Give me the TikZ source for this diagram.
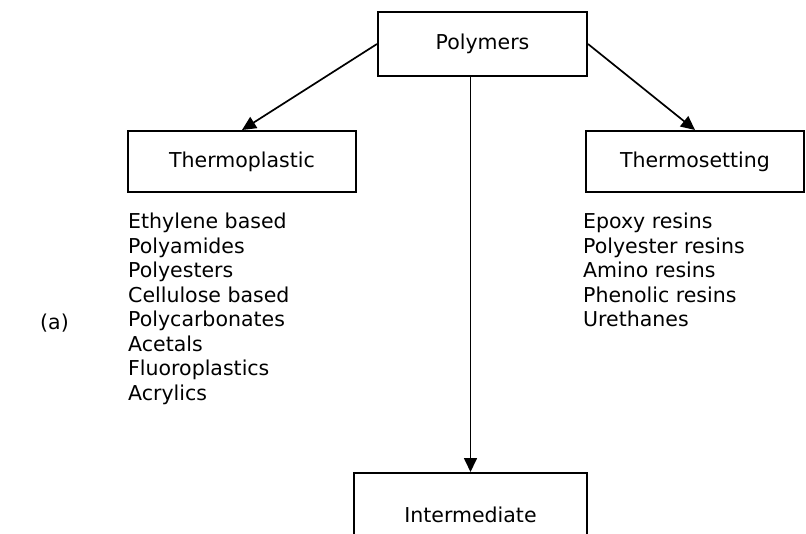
\documentclass[tikz,border=0pt]{standalone}
\usepackage{fontspec}
\setmainfont{DejaVu Sans}
\usetikzlibrary{arrows.meta}

\begin{document}
\begin{tikzpicture}[x=1pt, y=-1pt,
  classbox/.style={draw, line width=2pt, inner sep=0pt, font=\fontsize{20.5}{24.5}\selectfont},
  itemlist/.style={anchor=north west, inner sep=0pt, align=left, font=\fontsize{20.5}{24.5}\selectfont},
  link/.style={-{Triangle[length=14pt, width=13pt]}, line width=1.7pt}]
\clip (0,0) rectangle (806,534);
\node[classbox, minimum width=209pt, minimum height=64pt] (poly) at (482.5,44) {Polymers};
\node[classbox, minimum width=228pt, minimum height=61pt] (tplast) at (242,161.5) {Thermoplastic};
\node[classbox, minimum width=218pt, minimum height=61pt] (tset) at (695,161.5) {Thermosetting};
\node[classbox, minimum width=233pt, minimum height=84pt] (inter) at (470.5,515) {Intermediate};
\draw[link] (poly.west) -- (tplast.north);
\draw[link] (poly.east) -- (tset.north);
\draw[link] (inter.north |- poly.south) -- (inter.north);
% member lists
\node[itemlist] (tplist) at (128,213) {Ethylene based\\Polyamides\\Polyesters\\Cellulose based\\Polycarbonates\\Acetals\\Fluoroplastics\\Acrylics};
\node[itemlist] (tslist) at (583,213) {Epoxy resins\\Polyester resins\\Amino resins\\Phenolic resins\\Urethanes};
\node[anchor=west, inner sep=0pt, font=\fontsize{20.5}{24.5}\selectfont] (tag) at (40,323) {(a)};
\end{tikzpicture}
\end{document}
